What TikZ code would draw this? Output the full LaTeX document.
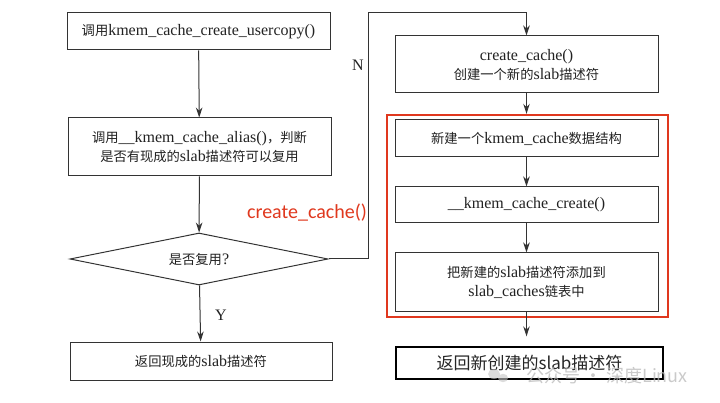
\documentclass[tikz,border=0pt]{standalone}
\usepackage{fontspec}
\setmainfont{Liberation Serif}
\newfontfamily\cjk[Scale=0.83]{Noto Sans CJK SC}
\newfontfamily\cjkbig{Noto Sans CJK SC}
\newfontfamily\calfont{Carlito}
\newcommand\zh[1]{{\cjk #1}}
\usetikzlibrary{shapes.geometric,arrows.meta,calc}
\definecolor{linegray}{HTML}{333333}
\definecolor{textgray}{HTML}{222222}
\definecolor{redc}{HTML}{E0381E}
\begin{document}
\begin{tikzpicture}[x=1pt,y=-1pt,
  box/.style={draw=linegray, line width=1pt, minimum width=263pt, inner sep=0pt,
    align=center, text=textgray, font=\fontsize{16}{19}\selectfont},
  dia/.style={draw=linegray, line width=1pt, shape=diamond, aspect=5,
    minimum width=258pt, minimum height=52pt, inner sep=0pt, text=textgray,
    font=\fontsize{16}{19}\selectfont},
  arr/.style={draw=linegray, line width=1pt, -{Stealth[length=10pt,width=6.5pt]}},
  lbl/.style={text=textgray, font=\fontsize{16}{18}\selectfont, inner sep=0pt},
  ]
\fill[white] (0,0) rectangle (720,403);
\useasboundingbox (0,0) rectangle (720,403);

\node[box, minimum height=37pt] (b1) at (198.5,31.5) {\zh{调用}kmem\_cache\_create\_usercopy()};
\node[box, minimum height=58pt] (b2) at (199.5,147) {\zh{调用}\_\_kmem\_cache\_alias()\zh{，判断}\\\zh{是否有现成的}slab\zh{描述符可以复用}};
\node[dia] (d) at (199,259) {\zh{是否复用}?};
\node[box, minimum width=262pt, minimum height=38pt] (b3) at (201,361) {\zh{返回现成的}slab\zh{描述符}};

\node[box, minimum height=57pt] (r1) at (526.5,64.5) {create\_cache()\\\zh{创建一个新的}slab\zh{描述符}};
\node[box, minimum height=37pt] (r2) at (526.5,138.5) {\zh{新建一个}kmem\_cache\zh{数据结构}};
\node[box, minimum height=36pt] (r3) at (526.5,205) {\_\_kmem\_cache\_create()};
\node[box, minimum height=58pt] (r4) at (526.5,282) {\zh{把新建的}slab\zh{描述符添加到}\\slab\_caches\zh{链表中}};
\node[draw=redc, line width=2.4pt, minimum width=281pt, minimum height=202pt, inner sep=0pt] (red) at (527.5,216) {};
\node[draw=black, line width=1.4pt, minimum width=267pt, minimum height=32pt, inner sep=0pt,
  font=\cjkbig\fontsize{17}{20}\selectfont, text=black!85] (fin) at (529.5,363) {返回新创建的slab描述符};

\node[lbl] (ylab) at (221,315) {Y};
\node[lbl] (nlab) at (358,65) {N};
\node[text=redc, font=\calfont\fontsize{20}{24}\selectfont, inner sep=0pt] (cc) at (307,213) {create\_cache()};

\coordinate (c1) at (368,13);

\draw[arr] (b1) -- (b2);
\draw[arr] (b2) -- (d);
\draw[arr] (d) -- (b3);
\draw[arr] (d.east) -| (c1) -| (r1.north);
\draw[arr] (r1.south) -- (r1.south |- red.north);
\draw[arr] (r2) -- (r3);
\draw[arr] (r3) -- (r4);
\draw[arr, shorten >=10pt] (r4.south) -- (r4.south |- fin.north);

% watermark
\fill[gray!45, opacity=0.6] (494,374) ellipse (6pt and 5pt);
\fill[gray!45, opacity=0.6] (503,378) ellipse (5pt and 4.2pt);
\node[text=gray!55, opacity=0.75, font=\cjkbig\fontsize{18}{20}\selectfont, inner sep=0pt] (wm) at (607,376) {公众号 · 深度Linux};
\end{tikzpicture}
\end{document}
